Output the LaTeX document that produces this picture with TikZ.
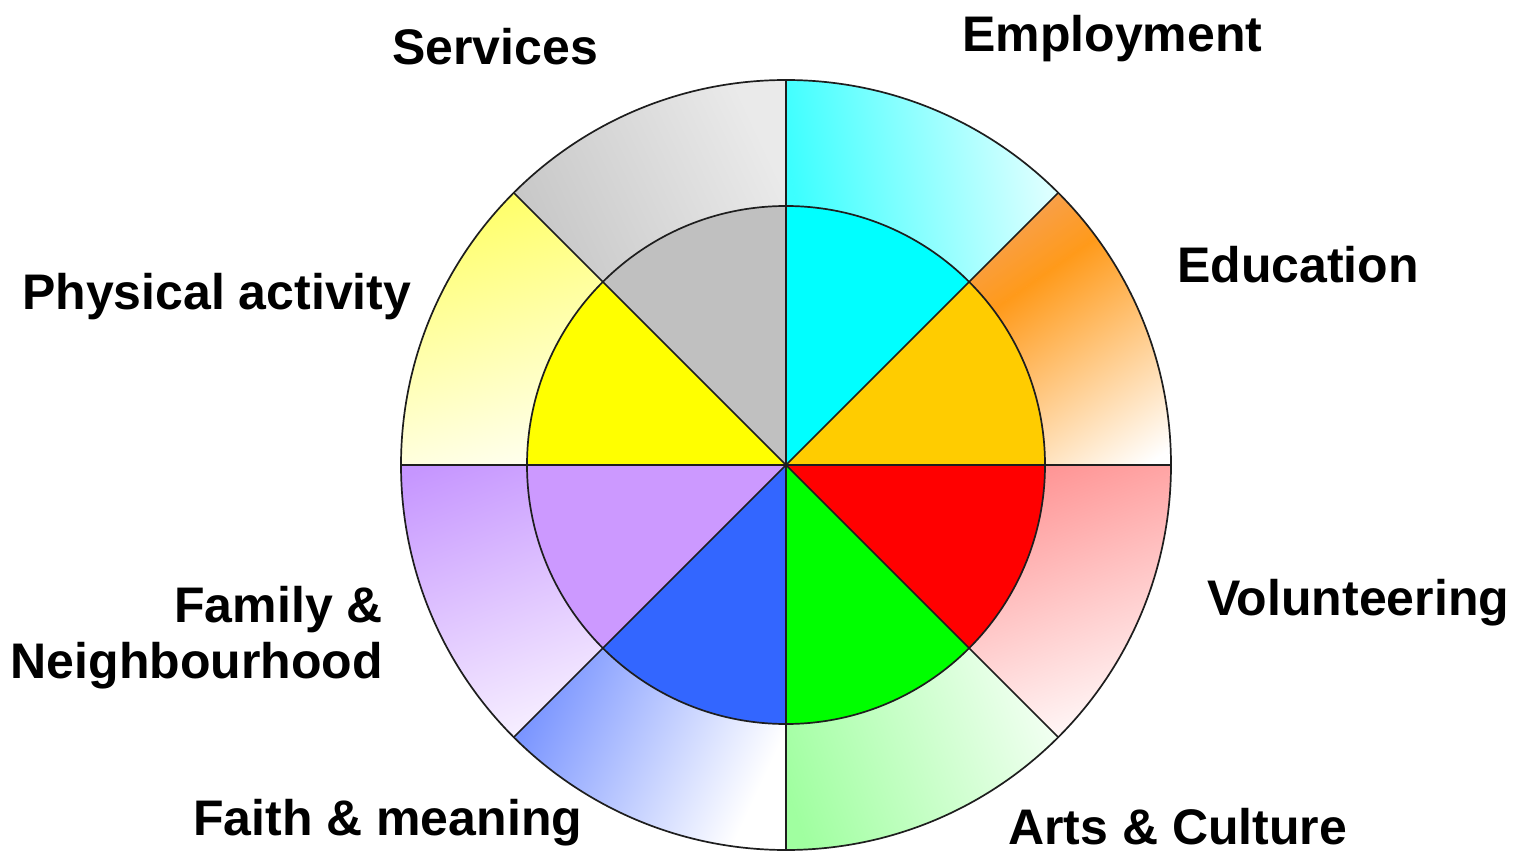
\documentclass[tikz,border=0pt]{standalone}
\usepackage{fontspec}
\setmainfont{Liberation Sans}
\definecolor{edgec}{HTML}{1E1E1E}
% inner disc colours
\definecolor{educIn}{HTML}{FFCC00}
\definecolor{emplIn}{HTML}{00FFFF}
\definecolor{servIn}{HTML}{C0C0C0}
\definecolor{physIn}{HTML}{FFFF00}
\definecolor{famIn}{HTML}{CC99FF}
\definecolor{faithIn}{HTML}{3366FF}
\definecolor{artsIn}{HTML}{00FF00}
\definecolor{volIn}{HTML}{FF0000}
% outer ring gradient colours
\definecolor{educA}{HTML}{F2A470}
\definecolor{educB}{HTML}{FF9A1A}
\definecolor{emplA}{HTML}{3CFFFF}
\definecolor{emplB}{HTML}{DCFFFF}
\definecolor{servA}{HTML}{C0C0C0}
\definecolor{servB}{HTML}{EAEAEA}
\definecolor{physA}{HTML}{FFFF6A}
\definecolor{physB}{HTML}{FFFFF2}
\definecolor{famA}{HTML}{C696FF}
\definecolor{famB}{HTML}{F6EEFF}
\definecolor{faithA}{HTML}{7490FF}
\definecolor{artsA}{HTML}{A0FFA0}
\definecolor{artsB}{HTML}{F4FFF4}
\definecolor{volA}{HTML}{FF9090}
\definecolor{volB}{HTML}{FFF6F6}
\begin{document}
\begin{tikzpicture}[x=1pt,y=1pt,
  lbl/.style={font=\fontsize{50}{56}\selectfont\bfseries, inner sep=0pt},
  edge/.style={line width=1.7pt, draw=edgec}]
\useasboundingbox (0,0) rectangle (1533,852);
\coordinate (c) at (786,387);
\def\Ro{385}
\def\Ri{259}
% annular segment of the outer ring between two angles
\newcommand\annseg[2]{([shift={(c)}]#1:\Ri) -- ([shift={(c)}]#1:\Ro)
  arc[start angle=#1, end angle=#2, radius=\Ro] -- ([shift={(c)}]#2:\Ri)
  arc[start angle=#2, end angle=#1, radius=\Ri] -- cycle}
% pie slice of the inner disc
\newcommand\pieseg[2]{(c) -- ([shift={(c)}]#1:\Ri)
  arc[start angle=#1, end angle=#2, radius=\Ri] -- cycle}
% outer segment filled with a linear gradient:
% #1,#2 angles, #3,#4 gradient start, #5 gradient direction,
% #6 gradient length, #7 start colour, #8 end colour
\newcommand\gradseg[8]{%
  \begin{scope}
    \clip \annseg{#1}{#2};
    \begin{scope}[transform canvas={shift={(#3,#4)}, rotate=#5}]
      \fill[#7] (-700,-700) rectangle (0.5,700);
      \shade[left color=#7, right color=#8] (0,-700) rectangle (#6,700);
      \fill[#8] (#6-0.5,-700) rectangle (700,700);
    \end{scope}
  \end{scope}}

% outer ring, shaded segments
\begin{scope}
  \clip \annseg{0}{45};
  \begin{scope}[transform canvas={shift={(1062,590)}, rotate=-55}]
    \fill[educA] (-700,-700) rectangle (-109.5,700);
    \shade[left color=educA, right color=educB] (-110,-700) rectangle (0,700);
    \shade[left color=educB, right color=white] (-0.5,-700) rectangle (215,700);
    \fill[white] (214.5,-700) rectangle (700,700);
  \end{scope}
\end{scope}
\gradseg{45}{90}{795}{652}{10}{250}{emplA}{emplB}
\gradseg{90}{135}{520}{522}{25}{300}{servA}{servB}
\gradseg{135}{180}{500}{652}{-75}{270}{physA}{physB}
\gradseg{180}{225}{420}{382}{-70}{280}{famA}{famB}
\gradseg{225}{270}{515}{132}{-25}{250}{faithA}{white}
\gradseg{270}{315}{790}{52}{20}{280}{artsA}{artsB}
\gradseg{315}{360}{1000}{382}{-70}{270}{volA}{volB}

% inner disc, solid slices
\fill[educIn] \pieseg{0}{45};
\fill[emplIn] \pieseg{45}{90};
\fill[servIn] \pieseg{90}{135};
\fill[physIn] \pieseg{135}{180};
\fill[famIn] \pieseg{180}{225};
\fill[faithIn] \pieseg{225}{270};
\fill[artsIn] \pieseg{270}{315};
\fill[volIn] \pieseg{315}{360};

% outlines
\draw[edge] (c) circle[radius=\Ro];
\draw[edge] (c) circle[radius=\Ri];
\foreach \a in {0,45,90,135}
  \draw[edge] ([shift={(c)}]\a:\Ro) -- ([shift={(c)}]\a+180:\Ro);

% labels
\node[lbl, anchor=base west] (services) at (392,787) {Services};
\node[lbl, anchor=base west] (employment) at (962,800) {Employment};
\node[lbl, anchor=base west] (education) at (1177,569) {Education};
\node[lbl, anchor=base west] (physical) at (22,542) {Physical activity};
\node[lbl, anchor=base east] (family) at (383,230) {Family \&};
\node[lbl, anchor=base east] (neighbourhood) at (383,174) {Neighbourhood};
\node[lbl, anchor=base west] (volunteering) at (1207,237) {Volunteering};
\node[lbl, anchor=base west] (faith) at (193,17) {Faith \& meaning};
\node[lbl, anchor=base west] (arts) at (1008,8) {Arts \& Culture};
\end{tikzpicture}
\end{document}
